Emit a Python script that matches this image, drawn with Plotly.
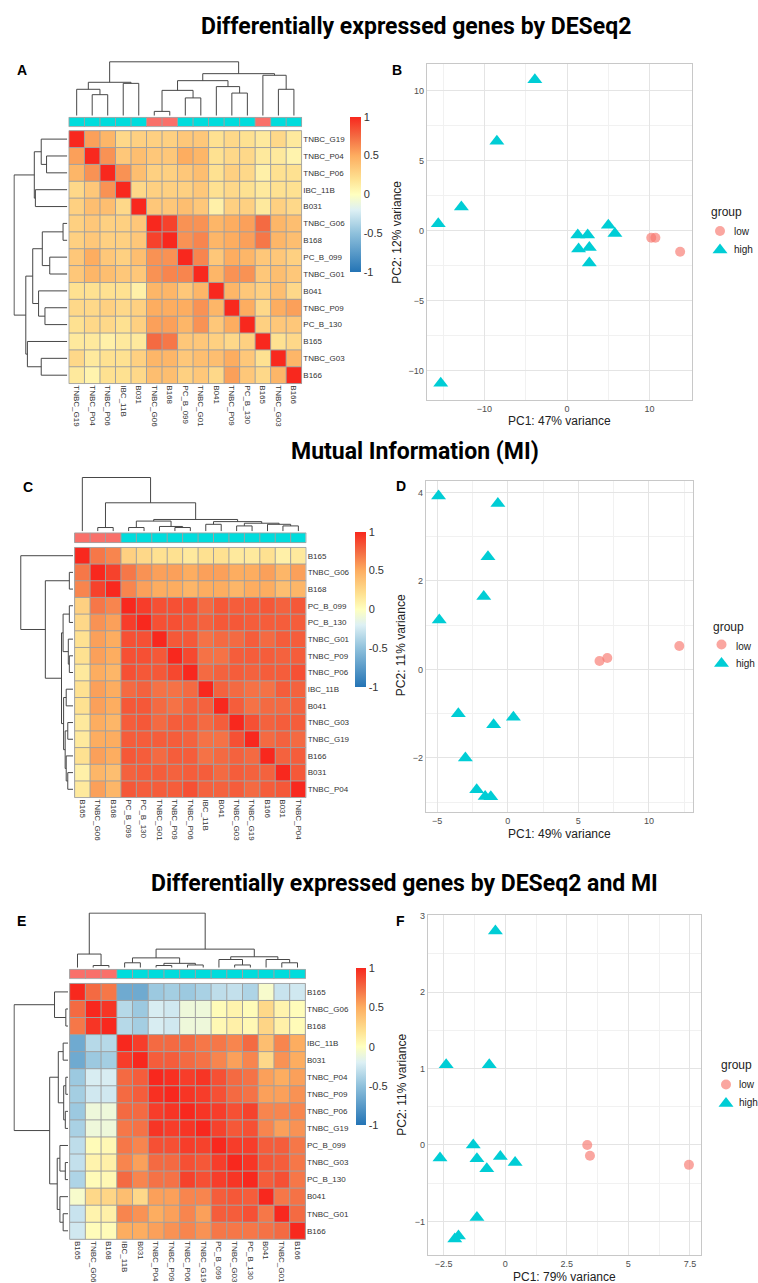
import plotly.graph_objects as go

W, H = 758, 1283

# ---------------- data ----------------
order_a = ["TNBC_G19", "TNBC_P04", "TNBC_P06", "IBC_11B", "B031", "TNBC_G06", "B168", "PC_B_099",
           "TNBC_G01", "B041", "TNBC_P09", "PC_B_130", "B165", "TNBC_G03", "B166"]
order_c = ["B165", "TNBC_G06", "B168", "PC_B_099", "PC_B_130", "TNBC_G01", "TNBC_P09", "TNBC_P06",
           "IBC_11B", "B041", "TNBC_G03", "TNBC_G19", "B166", "B031", "TNBC_P04"]
order_e = ["B165", "TNBC_G06", "B168", "IBC_11B", "B031", "TNBC_P04", "TNBC_P09", "TNBC_P06",
           "TNBC_G19", "PC_B_099", "TNBC_G03", "PC_B_130", "B041", "TNBC_G01", "B166"]
low_samples = ["B165", "TNBC_G06", "B168"]
group_names = ["low", "high"]

corr_a = [
    [1.00, 0.55, 0.45, 0.25, 0.30, 0.30, 0.30, 0.35, 0.35, 0.20, 0.25, 0.20, 0.15, 0.25, 0.15],
    [0.55, 1.00, 0.60, 0.35, 0.40, 0.35, 0.35, 0.50, 0.45, 0.20, 0.25, 0.25, 0.15, 0.15, 0.08],
    [0.45, 0.60, 1.00, 0.60, 0.40, 0.30, 0.30, 0.35, 0.40, 0.20, 0.30, 0.25, 0.10, 0.20, 0.20],
    [0.25, 0.35, 0.60, 1.00, 0.25, 0.30, 0.30, 0.30, 0.35, 0.20, 0.25, 0.20, 0.15, 0.20, 0.20],
    [0.30, 0.40, 0.40, 0.25, 1.00, 0.35, 0.35, 0.40, 0.35, 0.10, 0.30, 0.30, 0.15, 0.30, 0.25],
    [0.30, 0.35, 0.30, 0.30, 0.35, 1.00, 0.90, 0.60, 0.60, 0.45, 0.50, 0.55, 0.75, 0.45, 0.40],
    [0.30, 0.35, 0.30, 0.30, 0.35, 0.90, 1.00, 0.60, 0.65, 0.45, 0.50, 0.55, 0.70, 0.45, 0.40],
    [0.35, 0.50, 0.35, 0.30, 0.40, 0.60, 0.60, 1.00, 0.65, 0.35, 0.50, 0.45, 0.35, 0.35, 0.30],
    [0.35, 0.45, 0.40, 0.35, 0.35, 0.60, 0.65, 0.65, 1.00, 0.45, 0.60, 0.60, 0.35, 0.40, 0.35],
    [0.20, 0.20, 0.20, 0.20, 0.10, 0.45, 0.45, 0.35, 0.45, 1.00, 0.45, 0.35, 0.30, 0.40, 0.25],
    [0.25, 0.25, 0.30, 0.25, 0.30, 0.50, 0.50, 0.50, 0.60, 0.45, 1.00, 0.50, 0.25, 0.50, 0.55],
    [0.20, 0.25, 0.25, 0.20, 0.30, 0.55, 0.55, 0.45, 0.60, 0.35, 0.50, 1.00, 0.30, 0.35, 0.35],
    [0.15, 0.15, 0.10, 0.15, 0.15, 0.75, 0.70, 0.35, 0.35, 0.30, 0.25, 0.30, 1.00, 0.20, 0.25],
    [0.25, 0.15, 0.20, 0.20, 0.30, 0.45, 0.45, 0.35, 0.40, 0.40, 0.50, 0.35, 0.20, 1.00, 0.45],
    [0.15, 0.08, 0.20, 0.20, 0.25, 0.40, 0.40, 0.30, 0.35, 0.25, 0.55, 0.35, 0.25, 0.45, 1.00],
]

corr_c = [
    [1.00, 0.70, 0.65, 0.30, 0.25, 0.20, 0.20, 0.15, 0.20, 0.20, 0.15, 0.15, 0.20, 0.10, 0.15],
    [0.70, 1.00, 0.90, 0.70, 0.60, 0.55, 0.55, 0.50, 0.55, 0.55, 0.50, 0.50, 0.55, 0.45, 0.55],
    [0.65, 0.90, 1.00, 0.65, 0.55, 0.50, 0.50, 0.45, 0.50, 0.50, 0.45, 0.50, 0.50, 0.40, 0.45],
    [0.30, 0.70, 0.65, 1.00, 0.92, 0.85, 0.85, 0.85, 0.75, 0.82, 0.80, 0.80, 0.82, 0.78, 0.82],
    [0.25, 0.60, 0.55, 0.92, 1.00, 0.85, 0.85, 0.82, 0.78, 0.82, 0.82, 0.80, 0.80, 0.80, 0.80],
    [0.20, 0.55, 0.50, 0.85, 0.85, 1.00, 0.82, 0.82, 0.72, 0.75, 0.75, 0.80, 0.75, 0.80, 0.80],
    [0.20, 0.55, 0.50, 0.85, 0.85, 0.82, 1.00, 0.88, 0.72, 0.72, 0.80, 0.80, 0.80, 0.78, 0.80],
    [0.15, 0.50, 0.45, 0.85, 0.82, 0.82, 0.88, 1.00, 0.75, 0.78, 0.80, 0.78, 0.80, 0.80, 0.85],
    [0.20, 0.55, 0.50, 0.75, 0.78, 0.72, 0.72, 0.75, 1.00, 0.78, 0.75, 0.72, 0.72, 0.80, 0.78],
    [0.20, 0.55, 0.50, 0.82, 0.82, 0.75, 0.72, 0.78, 0.78, 1.00, 0.80, 0.72, 0.75, 0.75, 0.78],
    [0.15, 0.50, 0.45, 0.80, 0.82, 0.75, 0.80, 0.80, 0.75, 0.80, 1.00, 0.85, 0.78, 0.80, 0.80],
    [0.15, 0.50, 0.50, 0.80, 0.80, 0.80, 0.80, 0.78, 0.72, 0.72, 0.85, 1.00, 0.75, 0.78, 0.75],
    [0.20, 0.55, 0.50, 0.82, 0.80, 0.75, 0.80, 0.80, 0.72, 0.75, 0.78, 0.75, 1.00, 0.78, 0.80],
    [0.10, 0.45, 0.40, 0.78, 0.80, 0.80, 0.78, 0.80, 0.80, 0.75, 0.80, 0.78, 0.78, 1.00, 0.82],
    [0.15, 0.55, 0.45, 0.82, 0.80, 0.80, 0.80, 0.85, 0.78, 0.78, 0.80, 0.75, 0.80, 0.82, 1.00],
]

corr_e = [
    [1.00, 0.75, 0.70, -0.65, -0.65, -0.45, -0.42, -0.45, -0.40, -0.32, -0.30, -0.38, -0.05, -0.28, -0.25],
    [0.75, 1.00, 0.95, -0.35, -0.45, -0.22, -0.25, -0.10, -0.10, 0.03, 0.08, 0.03, 0.25, 0.08, 0.02],
    [0.70, 0.95, 1.00, -0.35, -0.42, -0.22, -0.25, -0.10, -0.10, 0.05, 0.10, 0.05, 0.27, 0.10, 0.03],
    [-0.65, -0.35, -0.35, 1.00, 0.92, 0.75, 0.75, 0.75, 0.70, 0.70, 0.65, 0.75, 0.40, 0.65, 0.50],
    [-0.65, -0.45, -0.42, 0.92, 1.00, 0.80, 0.80, 0.75, 0.72, 0.65, 0.55, 0.65, 0.25, 0.60, 0.50],
    [-0.45, -0.22, -0.22, 0.75, 0.80, 1.00, 0.97, 0.92, 0.95, 0.85, 0.75, 0.72, 0.55, 0.50, 0.55],
    [-0.42, -0.25, -0.25, 0.75, 0.80, 0.97, 1.00, 0.95, 0.92, 0.85, 0.75, 0.72, 0.55, 0.55, 0.60],
    [-0.45, -0.10, -0.10, 0.75, 0.75, 0.92, 0.95, 1.00, 0.95, 0.92, 0.85, 0.90, 0.65, 0.65, 0.65],
    [-0.40, -0.10, -0.10, 0.70, 0.72, 0.95, 0.92, 0.95, 1.00, 0.90, 0.82, 0.85, 0.65, 0.55, 0.60],
    [-0.32, 0.03, 0.05, 0.70, 0.65, 0.85, 0.85, 0.92, 0.90, 1.00, 0.92, 0.92, 0.80, 0.80, 0.70],
    [-0.30, 0.08, 0.10, 0.65, 0.55, 0.75, 0.75, 0.85, 0.82, 0.92, 1.00, 0.95, 0.82, 0.80, 0.70],
    [-0.38, 0.03, 0.05, 0.75, 0.65, 0.72, 0.72, 0.90, 0.85, 0.92, 0.95, 1.00, 0.80, 0.85, 0.70],
    [-0.05, 0.25, 0.27, 0.40, 0.25, 0.55, 0.55, 0.65, 0.65, 0.80, 0.82, 0.80, 1.00, 0.70, 0.72],
    [-0.28, 0.08, 0.10, 0.65, 0.60, 0.50, 0.55, 0.65, 0.55, 0.80, 0.80, 0.85, 0.70, 1.00, 0.75],
    [-0.25, 0.02, 0.03, 0.50, 0.50, 0.55, 0.60, 0.65, 0.60, 0.70, 0.70, 0.70, 0.72, 0.75, 1.00],
]

# hierarchical clustering merges: (left id, right id, relative height); ids >= 15 are earlier merges
link_a = [(1, 2, 0.39), (0, 15, 0.49), (3, 4, 0.60), (16, 17, 0.62), (5, 6, 0.08), (7, 8, 0.33),
          (19, 20, 0.47), (10, 11, 0.42), (9, 22, 0.54), (21, 23, 0.65), (13, 14, 0.49),
          (12, 25, 0.75), (24, 26, 0.78), (18, 27, 1.00)]
link_c = [(1, 2, 0.07), (3, 4, 0.07), (6, 7, 0.07), (5, 17, 0.09), (16, 18, 0.19), (8, 9, 0.13),
          (10, 11, 0.10), (13, 14, 0.10), (12, 22, 0.13), (21, 23, 0.15), (20, 24, 0.18),
          (19, 25, 0.22), (15, 26, 0.53), (0, 27, 1.00)]
link_e = [(1, 2, 0.04), (0, 15, 0.25), (3, 4, 0.09), (5, 6, 0.04), (7, 8, 0.05), (18, 19, 0.08),
          (17, 20, 0.18), (10, 11, 0.05), (9, 22, 0.15), (13, 14, 0.09), (12, 24, 0.15),
          (23, 25, 0.20), (21, 26, 0.34), (16, 27, 1.00)]

# PCA coordinates
pca_b_low_x = [10.2, 10.7, 13.7]
pca_b_low_y = [-0.5, -0.5, -1.5]
pca_b_high_x = [-3.9, -8.5, -12.8, -15.6, -15.3, 1.3, 2.5, 1.4, 2.7, 2.7, 5.0, 5.8]
pca_b_high_y = [10.8, 6.4, 1.7, 0.5, -10.9, -0.3, -0.3, -1.3, -1.2, -2.3, 0.4, -0.2]

pca_d_low_x = [6.5, 7.05, 12.15]
pca_d_low_y = [0.19, 0.26, 0.53]
pca_d_high_x = [-4.9, -0.7, -1.4, -1.7, -4.85, -3.5, -1.0, 0.4, -3.0, -2.2, -1.6, -1.2]
pca_d_high_y = [3.92, 3.75, 2.55, 1.65, 1.12, -1.0, -1.25, -1.08, -2.0, -2.72, -2.87, -2.88]

pca_f_low_x = [3.33, 3.44, 7.46]
pca_f_low_y = [0.0, -0.14, -0.26]
pca_f_high_x = [-0.4, -2.4, -0.65, -1.3, -2.65, -1.15, -0.2, 0.4, -0.75, -1.15, -1.9, -2.05]
pca_f_high_y = [2.8, 1.05, 1.05, 0.0, -0.17, -0.18, -0.15, -0.23, -0.31, -0.95, -1.19, -1.23]

pc_labels = {"B": ("PC1: 47% variance", "PC2: 12% variance"),
             "D": ("PC1: 49% variance", "PC2: 11% variance"),
             "F": ("PC1: 79% variance", "PC2: 11% variance")}

section_titles = ["Differentially expressed genes by DESeq2", "Mutual Information (MI)",
                  "Differentially expressed genes by DESeq2 and MI"]

# ---------------- styling ----------------
heat_colors = [[0.0, "#2474B5"], [0.25, "#8FC1DC"], [0.4, "#DDF0F4"], [0.5, "#FFFFBF"],
               [0.6, "#FEE191"], [0.75, "#FDAD60"], [0.875, "#F46A42"], [1.0, "#F8281E"]]
LOW_COL, HIGH_COL = "#F8766D", "#00CDD5"
ANN_LOW, ANN_HIGH = "#F9706A", "#00DCDC"
BORDER = "#A0A0A0"
DENDRO = "#474747"
lab_font = dict(family="Liberation Sans, Arial, sans-serif", size=8, color="#333333")

layout = dict(width=W, height=H, margin=dict(l=0, r=0, t=0, b=0, autoexpand=False), autosize=False,
              template="none", paper_bgcolor="white", plot_bgcolor="white",
              font=dict(family="Liberation Sans, Arial, sans-serif", color="#222222"),
              annotations=[], showlegend=True)
traces = []
counter = [0]


def new_axes(x0, x1, y0, y1, xopts, yopts):
    counter[0] += 1
    n = counter[0]
    sfx = "" if n == 1 else str(n)
    layout["xaxis" + sfx] = dict(domain=[x0 / W, x1 / W], anchor="y" + sfx, automargin=False,
                                 fixedrange=True, **xopts)
    layout["yaxis" + sfx] = dict(domain=[1 - y1 / H, 1 - y0 / H], anchor="x" + sfx, automargin=False,
                                 fixedrange=True, **yopts)
    return "x" + sfx, "y" + sfx


def hidden(rng):
    return dict(range=rng, visible=False, showgrid=False, zeroline=False)


def dendro(link, n):
    pos = {i: float(i) for i in range(n)}
    hgt = {i: 0.0 for i in range(n)}
    a_list, h_list = [], []
    for k, (a, b, h) in enumerate(link):
        a_list += [pos[a], pos[a], pos[b], pos[b], None]
        h_list += [hgt[a], h, h, hgt[b], None]
        pos[n + k] = (pos[a] + pos[b]) / 2
        hgt[n + k] = h
    return a_list, h_list


def grid_lines(nx, ny):
    xs, ys = [], []
    for i in range(nx + 1):
        xs += [i - 0.5, i - 0.5, None]
        ys += [-0.5, ny - 0.5, None]
    for j in range(ny + 1):
        xs += [-0.5, nx - 0.5, None]
        ys += [j - 0.5, j - 0.5, None]
    return xs, ys


def heat_panel(order, corr, link, hx, hy, ay, dtop, dleft, cb):
    n = len(order)
    e = 0.04
    xr, yr = new_axes(hx[0], hx[1], hy[0], hy[1],
                      dict(range=[-0.5 - e, n - 0.5 + e], tickvals=list(range(n)), ticktext=order,
                           tickangle=90, side="bottom", ticks="", showgrid=False, zeroline=False,
                           showline=False, tickfont=lab_font),
                      dict(range=[n - 0.5 + e, -0.5 - e], tickvals=list(range(n)), ticktext=order,
                           side="right", ticks="", showgrid=False, zeroline=False, showline=False,
                           tickfont=lab_font))
    traces.append(go.Heatmap(
        z=corr, x=list(range(n)), y=list(range(n)), xaxis=xr, yaxis=yr,
        colorscale=heat_colors, zmin=-1, zmax=1, hoverinfo="skip",
        colorbar=dict(x=cb[0] / W, xanchor="left", y=1 - (cb[2] + cb[3]) / 2 / H, yanchor="middle",
                      len=(cb[3] - cb[2]) / H, lenmode="fraction", thickness=cb[1] - cb[0],
                      thicknessmode="pixels", outlinewidth=0, xpad=0, ypad=0, ticks="",
                      tickvals=[-1, -0.5, 0, 0.5, 1], ticktext=["-1", "-0.5", "0", "0.5", "1"],
                      tickfont=dict(family="Liberation Sans, Arial", size=11, color="#333333"))))
    gx, gy = grid_lines(n, n)
    traces.append(go.Scatter(x=gx, y=gy, xaxis=xr, yaxis=yr, mode="lines", showlegend=False,
                             line=dict(color=BORDER, width=1), hoverinfo="skip"))
    # annotation bar
    xa, ya = new_axes(hx[0], hx[1], ay[0], ay[1], hidden([-0.5 - e, n - 0.5 + e]), hidden([-0.5 - 0.06, 0.5 + 0.06]))
    traces.append(go.Heatmap(z=[[0 if s in low_samples else 1 for s in order]], x=list(range(n)), y=[0],
                             xaxis=xa, yaxis=ya, zmin=0, zmax=1, showscale=False, hoverinfo="skip",
                             colorscale=[[0, ANN_LOW], [0.5, ANN_LOW], [0.5, ANN_HIGH], [1, ANN_HIGH]]))
    gx, gy = grid_lines(n, 1)
    traces.append(go.Scatter(x=gx, y=gy, xaxis=xa, yaxis=ya, mode="lines", showlegend=False,
                             line=dict(color=BORDER, width=1), hoverinfo="skip"))
    # column dendrogram
    lx, lh = dendro(link, n)
    xd, yd = new_axes(hx[0], hx[1], dtop, ay[0] - 1, hidden([-0.5 - e, n - 0.5 + e]), hidden([0, 1.015]))
    traces.append(go.Scatter(x=lx, y=lh, xaxis=xd, yaxis=yd, mode="lines", showlegend=False,
                             line=dict(color=DENDRO, width=1), hoverinfo="skip"))
    # row dendrogram
    xd2, yd2 = new_axes(dleft, hx[0] - 1, hy[0], hy[1], hidden([1.015, 0]), hidden([n - 0.5 + e, -0.5 - e]))
    traces.append(go.Scatter(x=lh, y=lx, xaxis=xd2, yaxis=yd2, mode="lines", showlegend=False,
                             line=dict(color=DENDRO, width=1), hoverinfo="skip"))


def add_text(text, x, y, size, xanchor="center", angle=0, color="#222222", family=None):
    f = dict(size=size, color=color)
    if family:
        f["family"] = family
    layout["annotations"].append(dict(text=text, x=x / W, y=1 - y / H, xref="paper", yref="paper",
                                      showarrow=False, xanchor=xanchor, yanchor="middle",
                                      textangle=angle, font=f))


def pca_panel(key, box, xrng, yrng, xt, xm, yt, ym, lowx, lowy, highx, highy, leg, lg, ttl):
    ax_common = dict(showgrid=True, gridcolor="#E4E4E4", gridwidth=1, zeroline=False,
                     showline=True, mirror=True, linecolor="#C8C8C8", linewidth=1, ticks="",
                     tickfont=dict(family="Liberation Sans, Arial", size=9, color="#4D4D4D"))
    xr, yr = new_axes(box[0], box[1], box[2], box[3],
                      dict(range=xrng, tickvals=xt,
                           minor=dict(tickvals=xm, showgrid=True, gridcolor="#F1F1F1", gridwidth=0.6),
                           **ax_common),
                      dict(range=yrng, tickvals=yt,
                           minor=dict(tickvals=ym, showgrid=True, gridcolor="#F1F1F1", gridwidth=0.6),
                           **ax_common))
    # legend symbols come from plotly; the labels are placed as text next to them
    traces.append(go.Scatter(x=lowx, y=lowy, xaxis=xr, yaxis=yr, mode="markers", name="",
                             legend=leg, marker=dict(symbol="circle", size=10, color=LOW_COL,
                                                     opacity=0.65, line=dict(width=0))))
    traces.append(go.Scatter(x=highx, y=highy, xaxis=xr, yaxis=yr, mode="markers", name="",
                             legend=leg, marker=dict(symbol="triangle-up", size=13, color=HIGH_COL,
                                                     line=dict(width=0))))
    # lg = (legend box x, legend box top, "group" left x, "group" y, label x, low y, high y)
    layout[leg] = dict(x=lg[0] / W, xanchor="left", y=1 - lg[1] / H, yanchor="top",
                       font=dict(size=11, color="#222222"), bgcolor="rgba(0,0,0,0)",
                       borderwidth=0, tracegroupgap=0)
    add_text("group", lg[2], lg[3], 12, xanchor="left")
    add_text(group_names[0], lg[4], lg[5], 10, xanchor="left")
    add_text(group_names[1], lg[4], lg[6], 10, xanchor="left")
    xt_lab, yt_lab = pc_labels[key]
    add_text(xt_lab, (box[0] + box[1]) / 2, ttl[0], 12)
    add_text(yt_lab, ttl[1], ttl[2], 12, angle=-90)


# ---------------- panels ----------------
heat_panel(order_a, corr_a, link_a, (68.3, 302.3), (130, 384.3), (116.7, 127.3), 61, 13.3,
           (350, 361, 116.7, 271.7))
heat_panel(order_c, corr_c, link_c, (74, 306.7), (546.7, 798.3), (532.3, 543.3), 476.7, 20,
           (355, 366, 531.7, 686.7))
heat_panel(order_e, corr_e, link_e, (69, 306), (982.7, 1240), (968.7, 979.3), 912.3, 13.3,
           (355.7, 366, 968.3, 1125))

pca_panel("B", (426.7, 691.7, 64.3, 400), [-17.0, 15.1], [-12.1, 11.9],
          [-10, 0, 10], [-15, -5, 5, 15], [-10, -5, 0, 5, 10], [-7.5, -2.5, 2.5, 7.5],
          pca_b_low_x, pca_b_low_y, pca_b_high_x, pca_b_high_y, "legend",
          (700, 216.5, 709, 211.7, 732, 231.7, 250), (421, 396.7, 232))
pca_panel("D", (425.7, 693.3, 481, 812.3), [-5.81, 13.14], [-3.23, 4.26],
          [-5, 0, 5, 10], [-2.5, 2.5, 7.5, 12.5], [-2, 0, 2, 4], [-3, -1, 1, 3],
          pca_d_low_x, pca_d_low_y, pca_d_high_x, pca_d_high_y, "legend2",
          (701.5, 630, 710.7, 627.3, 734, 646, 663.3), (834, 400.7, 645.5))
pca_panel("F", (427.7, 701, 915, 1255), [-3.15, 7.95], [-1.44, 3.01],
          [-2.5, 0, 2.5, 5, 7.5], [-1.25, 1.25, 3.75, 6.25], [-1, 0, 1, 2, 3], [-0.5, 0.5, 1.5, 2.5],
          pca_f_low_x, pca_f_low_y, pca_f_high_x, pca_f_high_y, "legend3",
          (706, 1070, 719, 1065, 737, 1084.7, 1102.7), (1277, 401.7, 1085))

# section titles
for txt, cx, cy in zip(section_titles, [416, 415, 404], [27, 452, 883]):
    add_text("<b>" + txt + "</b>", cx, cy, 23, color="#000000", family="Roboto, sans-serif")
# panel letters
for letter, lx, ly in [("A", 21.7, 70), ("B", 396.7, 70), ("C", 28, 487), ("D", 400.7, 486),
                       ("E", 21, 921), ("F", 400.7, 921)]:
    add_text("<b>" + letter + "</b>", lx, ly, 14, color="#000000", family="Liberation Sans, Arial")

fig = go.Figure(data=traces, layout=layout)
fig.write_html(
    "out.html",
    config={"displayModeBar": False, "responsive": False},
    post_script=("document.documentElement.style.overflow='hidden';"
                 "document.body.style.overflow='hidden';document.body.style.margin='0';"),
)
